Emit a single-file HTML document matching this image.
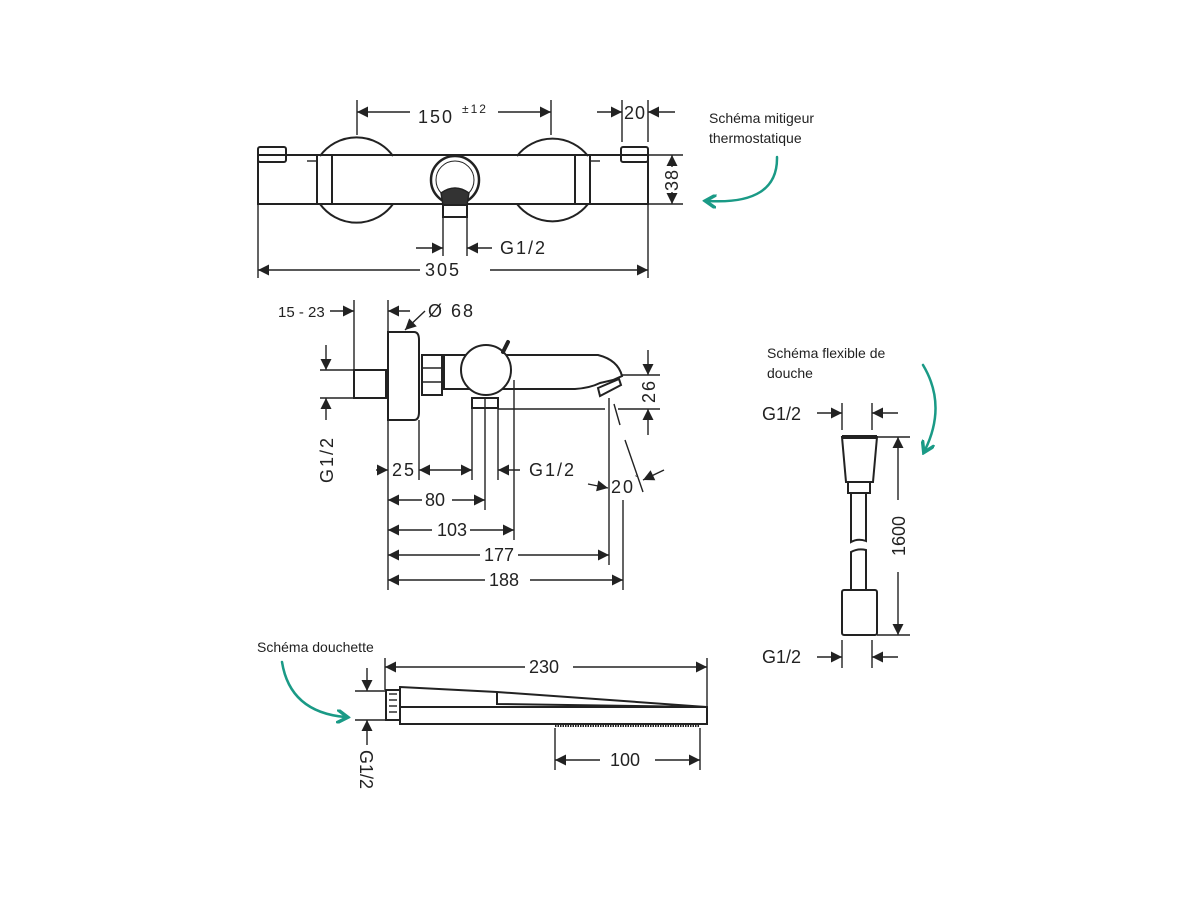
<!DOCTYPE html>
<html><head><meta charset="utf-8"><style>
html,body{margin:0;padding:0;background:#fff;}
svg{display:block;}
.d{font-family:"Liberation Sans",sans-serif;font-size:18px;fill:#222;letter-spacing:2px;}
.l{font-family:"Liberation Sans",sans-serif;font-size:14px;fill:#222;}
</style></head><body>
<svg width="1200" height="900" viewBox="0 0 1200 900" xmlns="http://www.w3.org/2000/svg">
<defs>
<marker id="a" viewBox="0 0 10 10" refX="10" refY="5" markerWidth="12" markerHeight="11" markerUnits="userSpaceOnUse" orient="auto-start-reverse"><path d="M0,0L10,5L0,10z" fill="#222"/></marker>
<marker id="t" viewBox="0 0 10 10" refX="6" refY="5" markerWidth="14" markerHeight="14" markerUnits="userSpaceOnUse" orient="auto"><path d="M0,0L8,5L0,10" fill="none" stroke="#1a9a86" stroke-width="2.5"/></marker>
</defs>
<g fill="none" stroke="#222" stroke-width="1.4">
<!-- TOP VIEW -->
<path d="M320,156 A45,45 0 0 1 393,156" stroke-width="2"/>
<path d="M320,204 A45,45 0 0 0 393,204" stroke-width="2"/>
<path d="M517,156 A45,45 0 0 1 588,156" stroke-width="2"/>
<path d="M517,204 A45,45 0 0 0 588,204" stroke-width="2"/>
<rect x="258" y="155" width="390" height="49" stroke-width="2"/>
<rect x="258" y="147" width="28" height="15" rx="2" stroke-width="2"/>
<rect x="621" y="147" width="27" height="15" rx="2" stroke-width="2"/>
<rect x="317" y="155" width="15" height="49" stroke-width="2"/>
<rect x="575" y="155" width="15" height="49" stroke-width="2"/>
<line x1="307" y1="161" x2="317" y2="161"/><line x1="590" y1="161" x2="600" y2="161"/>
<circle cx="455" cy="180" r="24" stroke-width="2.5"/>
<circle cx="455" cy="180" r="19" stroke-width="1"/>
<path d="M441,193 Q455,183 469,193 L467,205 L443,205Z" fill="#333"/>
<rect x="443" y="205" width="24" height="12" stroke-width="2"/>
<!-- dims top -->
<line x1="357" y1="100" x2="357" y2="135"/><line x1="551" y1="100" x2="551" y2="135"/>
<line x1="357" y1="112" x2="410" y2="112" marker-start="url(#a)"/><line x1="498" y1="112" x2="551" y2="112" marker-end="url(#a)"/>
<line x1="622" y1="100" x2="622" y2="142"/><line x1="648" y1="100" x2="648" y2="142"/>
<line x1="597" y1="112" x2="622" y2="112" marker-end="url(#a)"/><line x1="675" y1="112" x2="648" y2="112" marker-end="url(#a)"/>
<line x1="648" y1="155" x2="683" y2="155"/><line x1="648" y1="204" x2="683" y2="204"/>
<line x1="672" y1="167" x2="672" y2="155" marker-end="url(#a)"/><line x1="672" y1="192" x2="672" y2="204" marker-end="url(#a)"/>
<line x1="443" y1="217" x2="443" y2="256"/><line x1="467" y1="217" x2="467" y2="256"/>
<line x1="416" y1="248" x2="443" y2="248" marker-end="url(#a)"/><line x1="492" y1="248" x2="467" y2="248" marker-end="url(#a)"/>
<line x1="258" y1="204" x2="258" y2="278"/><line x1="648" y1="204" x2="648" y2="278"/>
<line x1="258" y1="270" x2="420" y2="270" marker-start="url(#a)"/><line x1="490" y1="270" x2="648" y2="270" marker-end="url(#a)"/>

<!-- SIDE VIEW -->
<rect x="354" y="370" width="32" height="28" stroke-width="2"/>
<path d="M388,332 H414 Q419,332 419,340 V412 Q419,420 414,420 H388Z" stroke-width="2"/>
<rect x="422" y="355" width="20" height="40" stroke-width="2"/>
<line x1="422" y1="368" x2="442" y2="368"/><line x1="422" y1="382" x2="442" y2="382"/>
<path d="M444,355 H598 Q618,360 622,376 L613,380 L600,383 Q590,388 575,389 H444Z" stroke-width="2"/>
<path d="M598,388 L619,379 L621,385 L600,396Z" stroke-width="2"/>
<circle cx="486" cy="370" r="25" fill="#fff" stroke-width="2"/>
<path d="M503,352 L508,342" stroke-width="4" stroke-linecap="round"/>
<rect x="472" y="398" width="26" height="10" stroke-width="2"/>
<line x1="485" y1="398" x2="485" y2="408"/>
<line x1="498" y1="409" x2="605" y2="409"/>
<!-- side dims -->
<line x1="354" y1="300" x2="354" y2="370"/>
<line x1="330" y1="311" x2="354" y2="311" marker-end="url(#a)"/>
<line x1="388" y1="300" x2="388" y2="590"/>
<line x1="410" y1="311" x2="388" y2="311" marker-end="url(#a)"/>
<line x1="425" y1="311" x2="405" y2="330" marker-end="url(#a)"/>
<line x1="320" y1="370" x2="354" y2="370"/><line x1="320" y1="398" x2="354" y2="398"/>
<line x1="326" y1="345" x2="326" y2="370" marker-end="url(#a)"/><line x1="326" y1="420" x2="326" y2="398" marker-end="url(#a)"/>
<line x1="419" y1="420" x2="419" y2="480"/>
<line x1="472" y1="408" x2="472" y2="480"/><line x1="498" y1="408" x2="498" y2="480"/>
<line x1="485" y1="408" x2="485" y2="510"/><line x1="514" y1="380" x2="514" y2="540"/>
<line x1="609" y1="398" x2="609" y2="565"/><line x1="623" y1="500" x2="623" y2="590"/>
<line x1="376" y1="470" x2="388" y2="470" marker-end="url(#a)"/>
<line x1="419" y1="470" x2="472" y2="470" marker-start="url(#a)" marker-end="url(#a)"/>
<line x1="520" y1="470" x2="498" y2="470" marker-end="url(#a)"/>
<line x1="388" y1="500" x2="422" y2="500" marker-start="url(#a)"/><line x1="452" y1="500" x2="485" y2="500" marker-end="url(#a)"/>
<line x1="388" y1="530" x2="432" y2="530" marker-start="url(#a)"/><line x1="470" y1="530" x2="514" y2="530" marker-end="url(#a)"/>
<line x1="388" y1="555" x2="480" y2="555" marker-start="url(#a)"/><line x1="518" y1="555" x2="609" y2="555" marker-end="url(#a)"/>
<line x1="388" y1="580" x2="485" y2="580" marker-start="url(#a)"/><line x1="530" y1="580" x2="623" y2="580" marker-end="url(#a)"/>
<line x1="622" y1="375" x2="660" y2="375"/><line x1="618" y1="409" x2="660" y2="409"/>
<line x1="648" y1="350" x2="648" y2="375" marker-end="url(#a)"/><line x1="648" y1="435" x2="648" y2="409" marker-end="url(#a)"/>
<line x1="614" y1="404" x2="620" y2="425"/><line x1="625" y1="440" x2="643" y2="492"/>
<line x1="588" y1="484" x2="608" y2="488" marker-end="url(#a)"/>
<line x1="664" y1="470" x2="643" y2="480" marker-end="url(#a)"/>

<!-- SHOWER HEAD -->
<rect x="386" y="690" width="14" height="30" stroke-width="2"/>
<line x1="389" y1="694" x2="397" y2="694"/><line x1="389" y1="700" x2="397" y2="700"/><line x1="389" y1="706" x2="397" y2="706"/><line x1="389" y1="712" x2="397" y2="712"/>
<path d="M400,687 L497,692 L707,707 V724 H400Z" stroke-width="2"/>
<line x1="400" y1="707" x2="707" y2="707" stroke-width="2"/>
<path d="M497,692 V704 L707,707" stroke-width="2"/>
<line x1="555" y1="726" x2="700" y2="726" stroke-dasharray="1.5,1" stroke-width="2"/>
<line x1="385" y1="658" x2="385" y2="690"/><line x1="707" y1="658" x2="707" y2="707"/>
<line x1="385" y1="667" x2="525" y2="667" marker-start="url(#a)"/><line x1="573" y1="667" x2="707" y2="667" marker-end="url(#a)"/>
<line x1="555" y1="728" x2="555" y2="770"/><line x1="700" y1="728" x2="700" y2="770"/>
<line x1="555" y1="760" x2="600" y2="760" marker-start="url(#a)"/><line x1="655" y1="760" x2="700" y2="760" marker-end="url(#a)"/>
<line x1="355" y1="691" x2="386" y2="691"/><line x1="355" y1="720" x2="386" y2="720"/>
<line x1="367" y1="668" x2="367" y2="691" marker-end="url(#a)"/><line x1="367" y1="745" x2="367" y2="720" marker-end="url(#a)"/>

<!-- HOSE -->
<path d="M842,437 H877 L873,482 H846Z" stroke-width="2"/>
<line x1="842" y1="437" x2="877" y2="437" stroke-width="4"/>
<rect x="848" y="482" width="22" height="11" stroke-width="2"/>
<path d="M851,493 V542 Q858,538 866,541 V493" stroke-width="2"/>
<path d="M851,590 V552 Q858,548 866,550 V590" stroke-width="2"/>
<rect x="842" y="590" width="35" height="45" rx="2" stroke-width="2"/>
<line x1="842" y1="403" x2="842" y2="430"/><line x1="872" y1="403" x2="872" y2="430"/>
<line x1="817" y1="413" x2="842" y2="413" marker-end="url(#a)"/><line x1="898" y1="413" x2="872" y2="413" marker-end="url(#a)"/>
<line x1="877" y1="437" x2="910" y2="437"/><line x1="877" y1="635" x2="910" y2="635"/>
<line x1="898" y1="500" x2="898" y2="437" marker-end="url(#a)"/><line x1="898" y1="572" x2="898" y2="635" marker-end="url(#a)"/>
<line x1="842" y1="640" x2="842" y2="668"/><line x1="872" y1="640" x2="872" y2="668"/>
<line x1="817" y1="657" x2="842" y2="657" marker-end="url(#a)"/><line x1="898" y1="657" x2="872" y2="657" marker-end="url(#a)"/>
</g>
<!-- teal arrows -->
<g fill="none" stroke="#1a9a86" stroke-width="2.5" stroke-linecap="round">
<path d="M777,157 Q778,205 708,201" marker-end="url(#t)"/>
<path d="M923,365 Q947,405 925,450" marker-end="url(#t)"/>
<path d="M282,662 Q290,712 345,717" marker-end="url(#t)"/>
</g>
<!-- text -->
<text class="d" x="418" y="123">150</text><text class="d" x="462" y="113" style="font-size:12px">±12</text>
<text class="d" x="624" y="119" style="letter-spacing:1px">20</text>
<text class="d" transform="translate(672,180) rotate(-90)" x="0" y="6" text-anchor="middle" style="letter-spacing:1px">38</text>
<text class="d" x="500" y="254">G1/2</text>
<text class="d" x="425" y="276">305</text>
<text class="d" x="278" y="317" style="font-size:15px;letter-spacing:0">15 - 23</text>
<text class="d" x="428" y="317">Ø 68</text>
<text class="d" transform="translate(333,458) rotate(-90)" x="-25" y="0">G1/2</text>
<text class="d" x="392" y="476">25</text>
<text class="d" x="529" y="476">G1/2</text>
<text class="d" x="425" y="506" style="letter-spacing:0">80</text>
<text class="d" x="437" y="536" style="letter-spacing:0">103</text>
<text class="d" x="484" y="561" style="letter-spacing:0">177</text>
<text class="d" x="489" y="586" style="letter-spacing:0">188</text>
<text class="d" transform="translate(655,392) rotate(-90)" x="-11" y="0">26</text>
<text class="d" x="611" y="493">20</text><text class="d" x="635" y="481" style="font-size:9px">°</text>
<text class="d" x="529" y="673" style="letter-spacing:0">230</text>
<text class="d" x="610" y="766" style="letter-spacing:0">100</text>
<text class="d" transform="translate(360,750) rotate(90)" x="0" y="0" style="letter-spacing:0">G1/2</text>
<text class="d" x="762" y="420" style="letter-spacing:0">G1/2</text>
<text class="d" x="762" y="663" style="letter-spacing:0">G1/2</text>
<text class="d" transform="translate(905,536) rotate(-90)" x="-20" y="0" style="letter-spacing:0">1600</text>
<text class="l" x="709" y="123">Schéma mitigeur</text>
<text class="l" x="709" y="143">thermostatique</text>
<text class="l" x="767" y="358">Schéma flexible de</text>
<text class="l" x="767" y="378">douche</text>
<text class="l" x="257" y="652">Schéma douchette</text>
</svg>
</body></html>
